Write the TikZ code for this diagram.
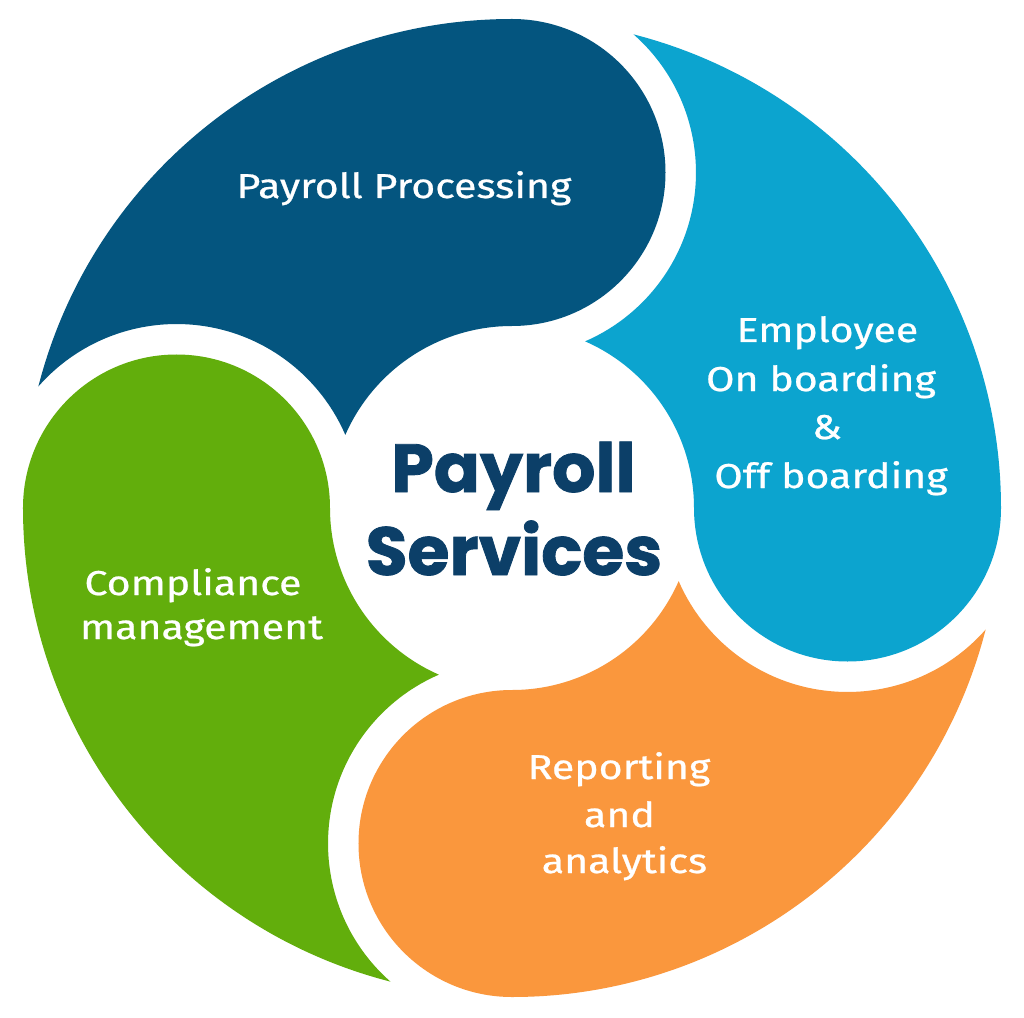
\documentclass[tikz,border=0pt]{standalone}
\usepackage{fontspec}
\newfontfamily\lab{Fira Sans}[FakeStretch=1.19, FakeBold=0.7]
\newfontfamily\ctr{Poppins}[FakeBold=1.2]
\definecolor{pdark}{HTML}{04557F}
\definecolor{plight}{HTML}{0CA4CF}
\definecolor{porange}{HTML}{FA973D}
\definecolor{pgreen}{HTML}{62AE0C}
\definecolor{ctrcol}{HTML}{0C3F68}
\begin{document}
\begin{tikzpicture}[x=1pt,y=1pt,
  lbl/.style={text=white, font=\lab\fontsize{34.5}{40}\selectfont, anchor=base, inner sep=0pt},
  ctrtxt/.style={text=ctrcol, font=\ctr\bfseries\fontsize{68}{80}\selectfont, anchor=base, inner sep=0pt}]
\useasboundingbox[fill=white] (-512,-509) rectangle (512,508);
% four swirl petals, 4-fold rotational symmetry
\foreach \k/\c in {0/pdark,1/plight,2/porange,3/pgreen}{
  \begin{scope}[rotate=-90*\k]
    \fill[\c] (156.31:182)
      arc[start angle=156.31, end angle=90, radius=182]
      arc[start angle=-90, end angle=90, radius=153.5]
      arc[start angle=90, end angle=165.61, radius=489]
      arc[start angle=138.66, end angle=23.42, radius=184]
      -- cycle;
  \end{scope}
}
% labels
\node[lbl] (pp) at (-108,310) {Payroll Processing};
\node[lbl] (e1) at (315.5,166) {Employee};
\node[lbl] (e2) at (309,117) {On boarding};
\node[lbl] (e3) at (315,69) {\&};
\node[lbl] (e4) at (319,20) {Off boarding};
\node[lbl] (c1) at (-319,-87) {Compliance};
\node[lbl] (c2) at (-310.5,-131) {management};
\node[lbl] (r1) at (107,-271) {Reporting};
\node[lbl] (r2) at (107.5,-319) {and};
\node[lbl] (r3) at (112.5,-365) {analytics};
\node[ctrtxt] (t1) at (1.5,16) {Payroll};
\node[ctrtxt] (t2) at (2,-67) {Services};
\end{tikzpicture}
\end{document}
